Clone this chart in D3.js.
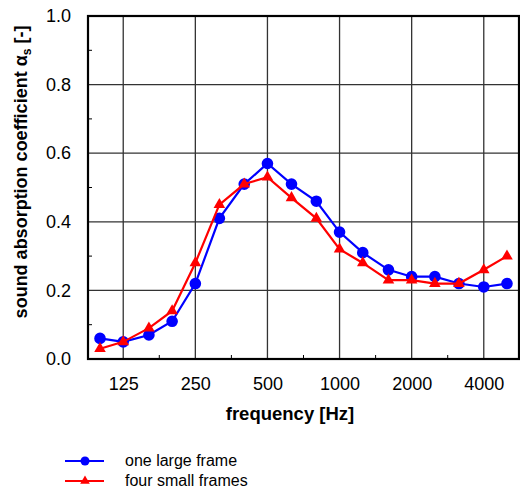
<!DOCTYPE html>
<html>
<head>
<meta charset="utf-8">
<script src="https://cdn.jsdelivr.net/npm/d3@7"></script>
<style>
  body { margin: 0; background: #fff; }
  text { font-family: "Liberation Sans", Arial, sans-serif; }
</style>
</head>
<body>
<div class="chart"></div>
<script>
var svgWidth = 520;
var svgHeight = 493;

var margin = { top: 16, right: 1, bottom: 134, left: 88 };
var width = svgWidth - margin.left - margin.right;
var height = svgHeight - margin.top - margin.bottom;

// third-octave band centre frequencies
var freqs = [100, 125, 160, 200, 250, 315, 400, 500, 630, 800, 1000, 1250, 1600, 2000, 2500, 3150, 4000, 5000];
var oneLarge = [0.06, 0.05, 0.07, 0.11, 0.22, 0.41, 0.51, 0.57, 0.51, 0.46, 0.37, 0.31, 0.26, 0.24, 0.24, 0.22, 0.21, 0.22];
var fourSmall = [0.03, 0.05, 0.09, 0.14, 0.28, 0.45, 0.51, 0.53, 0.47, 0.41, 0.32, 0.28, 0.23, 0.23, 0.22, 0.22, 0.26, 0.30];
var xTicks = [125, 250, 500, 1000, 2000, 4000];
var xMinorTicks = [125 * Math.SQRT2, 250 * Math.SQRT2, 500 * Math.SQRT2, 1000 * Math.SQRT2, 2000 * Math.SQRT2];
var yTicks = [0, 0.2, 0.4, 0.6, 0.8, 1.0];
var yMinorTicks = [0.1, 0.3, 0.5, 0.7, 0.9];

var svg = d3.select(".chart")
  .append("svg")
  .attr("width", svgWidth)
  .attr("height", svgHeight);

var chartGroup = svg.append("g")
  .attr("transform", `translate(${margin.left}, ${margin.top})`);

var xScale = d3.scaleLog()
  .domain([100 * Math.pow(2, -1 / 6), 5000 * Math.pow(2, 1 / 6)])
  .range([0, width]);
var yScale = d3.scaleLinear()
  .domain([0, 1])
  .range([height, 0]);

// grid
chartGroup.append("g")
  .selectAll("line")
  .data(xTicks)
  .enter()
  .append("line")
  .attr("x1", d => xScale(d))
  .attr("x2", d => xScale(d))
  .attr("y1", 0)
  .attr("y2", height)
  .attr("stroke", "#333")
  .attr("stroke-width", 1.3);

chartGroup.append("g")
  .selectAll("line")
  .data(yTicks)
  .enter()
  .append("line")
  .attr("x1", 0)
  .attr("x2", width)
  .attr("y1", d => yScale(d))
  .attr("y2", d => yScale(d))
  .attr("stroke", "#333")
  .attr("stroke-width", 1.3);

// minor ticks (inside)
chartGroup.append("g")
  .selectAll("line")
  .data(yMinorTicks)
  .enter()
  .append("line")
  .attr("x1", 0)
  .attr("x2", 4)
  .attr("y1", d => yScale(d))
  .attr("y2", d => yScale(d))
  .attr("stroke", "#000");

chartGroup.append("g")
  .selectAll("line")
  .data(xMinorTicks)
  .enter()
  .append("line")
  .attr("x1", d => xScale(d))
  .attr("x2", d => xScale(d))
  .attr("y1", height)
  .attr("y2", height - 4)
  .attr("stroke", "#000");

// axes
var bottomAxis = d3.axisBottom(xScale)
  .tickValues(xTicks)
  .tickFormat(d3.format("d"))
  .tickSize(0)
  .tickPadding(18);
var leftAxis = d3.axisLeft(yScale)
  .tickValues(yTicks)
  .tickFormat(d3.format(".1f"))
  .tickSize(0)
  .tickPadding(17);

var xAxisG = chartGroup.append("g")
  .attr("transform", `translate(0, ${height})`)
  .call(bottomAxis);
var yAxisG = chartGroup.append("g")
  .call(leftAxis);

[xAxisG, yAxisG].forEach(function(g) {
  g.select(".domain").remove();
  g.selectAll("text")
    .attr("font-size", 18)
    .attr("font-family", "Liberation Sans, Arial, sans-serif")
    .attr("fill", "#000");
});

// frame
chartGroup.append("rect")
  .attr("x", 0)
  .attr("y", 0)
  .attr("width", width)
  .attr("height", height)
  .attr("fill", "none")
  .attr("stroke", "#000")
  .attr("stroke-width", 2.2);

// series
var series = [
  { name: "one large frame", values: oneLarge, color: "#0000ff", symbol: d3.symbolCircle, size: 106, legendSize: 64 },
  { name: "four small frames", values: fourSmall, color: "#ff0000", symbol: d3.symbolTriangle, size: 58, legendSize: 40 }
];

var line = d3.line()
  .x(d => xScale(d[0]))
  .y(d => yScale(d[1]));

series.forEach(function(s) {
  var pts = freqs.map((f, i) => [f, s.values[i]]);
  chartGroup.append("path")
    .datum(pts)
    .attr("d", line)
    .attr("fill", "none")
    .attr("stroke", s.color)
    .attr("stroke-width", 2.2);
  chartGroup.append("g")
    .selectAll("path")
    .data(pts)
    .enter()
    .append("path")
    .attr("transform", d => `translate(${xScale(d[0])}, ${yScale(d[1])})`)
    .attr("d", d3.symbol().type(s.symbol).size(s.size))
    .attr("fill", s.color);
});

// axis titles
svg.append("text")
  .attr("x", 290)
  .attr("y", 420)
  .attr("text-anchor", "middle")
  .attr("font-size", 18.5)
  .attr("font-weight", "bold")
  .text("frequency [Hz]");

var yTitle = svg.append("text")
  .attr("transform", "translate(27, 172) rotate(-90)")
  .attr("text-anchor", "middle")
  .attr("font-size", 18)
  .attr("font-weight", "bold");
yTitle.append("tspan").text("sound absorption coefficient α");
yTitle.append("tspan").attr("dy", 4).attr("font-size", 12).text("s");
yTitle.append("tspan").attr("dy", -4).text(" [-]");

// legend
var legend = svg.append("g");
series.forEach(function(s, i) {
  var y = 461 + i * 20;
  legend.append("line")
    .attr("x1", 65)
    .attr("x2", 104)
    .attr("y1", y)
    .attr("y2", y)
    .attr("stroke", s.color)
    .attr("stroke-width", 2.2);
  legend.append("path")
    .attr("transform", `translate(85, ${y})`)
    .attr("d", d3.symbol().type(s.symbol).size(s.legendSize))
    .attr("fill", s.color);
  legend.append("text")
    .attr("x", 125)
    .attr("y", y + 5)
    .attr("font-size", 16)
    .text(s.name);
});
</script>
</body>
</html>
